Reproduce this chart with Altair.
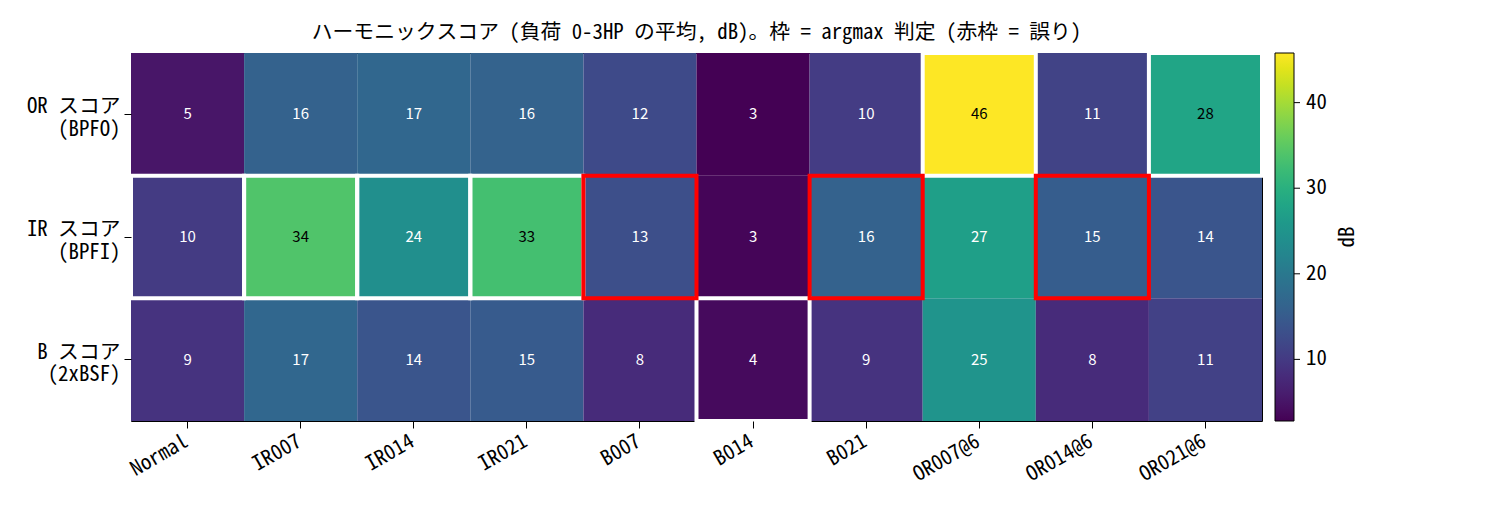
import altair as alt
import pandas as pd

faults = ["Normal", "IR007", "IR014", "IR021", "B007", "B014", "B021",
          "OR007@6", "OR014@6", "OR021@6"]
row_keys = ["OR", "IR", "B"]
row_line1 = ["OR スコア", "IR スコア", "B スコア"]
row_line2 = ["(BPFO)", "(BPFI)", "(2xBSF)"]

or_scores = [5.2, 16.1, 17.0, 16.2, 12.3, 2.8, 10.2, 45.8, 11.2, 28.0]
ir_scores = [10.1, 34.0, 24.0, 33.0, 13.0, 3.2, 16.0, 27.0, 15.2, 14.0]
b_scores = [9.0, 17.0, 14.0, 15.0, 8.0, 3.8, 9.0, 25.0, 8.0, 11.0]

frame_rows = ["IR", "IR", "IR", "IR", "IR", "B", "IR", "OR", "IR", "OR"]
frame_correct = [True, True, True, True, False, True, False, True, False, True]

cbar_ticks = [10, 20, 30, 40]
cmin, cmax = 2.8, 45.8

title_text = "ハーモニックスコア (負荷 0-3HP の平均, dB)。枠 = argmax 判定 (赤枠 = 誤り)"

records = []
for key, vals in zip(row_keys, [or_scores, ir_scores, b_scores]):
    for f, v in zip(faults, vals):
        records.append({"fault": f, "row": key, "v": v})
df = pd.DataFrame(records)
frames = pd.DataFrame({"fault": faults, "row": frame_rows, "ok": frame_correct})

font_ax = "Noto Sans Mono CJK JP, Noto Sans CJK JP, DejaVu Sans Mono"
font_num = "Noto Sans CJK JP"
FS = 20.8

label_expr = ""
for k, l1, l2 in zip(row_keys, row_line1, row_line2):
    label_expr += f"datum.value == '{k}' ? ['{l1}', '{l2}'] : "
label_expr += "datum.label"

W, H = 1131, 368

x_enc = alt.X("fault:N", sort=faults, scale=alt.Scale(domain=faults),
              axis=alt.Axis(title=None, labelAngle=-30, labelAlign="right",
                            labelBaseline="top", labelFontSize=FS, labelFont=font_ax,
                            tickSize=7, labelPadding=3, labelOffset=-6, domain=False,
                            tickColor="black", labelColor="black"))
y_enc = alt.Y("row:N", sort=row_keys, scale=alt.Scale(domain=row_keys),
              axis=alt.Axis(title=None, labelExpr=label_expr, labelAlign="right",
                            labelBaseline="middle", labelFontSize=FS, labelFont=font_ax,
                            labelLineHeight=22.5, labelOffset=-7, tickSize=7,
                            labelPadding=4, domain=False, tickColor="black",
                            labelColor="black"))

heat = alt.Chart(df).mark_rect().encode(
    x=x_enc, y=y_enc,
    color=alt.Color("v:Q", scale=alt.Scale(scheme="viridis", domain=[cmin, cmax]),
                    legend=alt.Legend(orient="none", legendX=W + 13, legendY=0,
                                      direction="vertical", title=None,
                                      gradientLength=H, gradientThickness=19,
                                      gradientStrokeColor="black", gradientStrokeWidth=1,
                                      values=cbar_ticks, labelFontSize=FS,
                                      labelFont=font_ax, labelColor="black",
                                      labelOffset=12, padding=0)),
)

text = alt.Chart(df).mark_text(font=font_num, fontSize=15).encode(
    x=x_enc, y=y_enc,
    text=alt.Text("v:Q", format=".0f"),
    color=alt.condition("datum.v > 27.5", alt.value("black"), alt.value("white")),
)

white_frames = alt.Chart(frames).transform_filter("datum.ok").mark_rect(
    fillOpacity=0, stroke="white", strokeWidth=4).encode(x=x_enc, y=y_enc)
red_frames = alt.Chart(frames).transform_filter("!datum.ok").mark_rect(
    fillOpacity=0, stroke="red", strokeWidth=4).encode(x=x_enc, y=y_enc)

ticks = alt.Chart(pd.DataFrame({"t": cbar_ticks})).mark_rule(
    color="black", strokeWidth=1).encode(
    y=alt.Y("t:Q", scale=alt.Scale(domain=[cmin, cmax], zero=False, nice=False), axis=None),
    x=alt.value(W + 13 + 19), x2=alt.value(W + 13 + 19 + 6))

db_label = alt.Chart(pd.DataFrame({"t": ["dB"]})).mark_text(
    angle=270, fontSize=FS, font=font_ax, color="black").encode(
    text="t:N", x=alt.value(W + 86), y=alt.value(H / 2))

main = alt.layer(heat, text, white_frames, red_frames)

chart = alt.layer(main, ticks, db_label).resolve_scale(
    y="independent"
).properties(
    width=W, height=H,
    title=alt.TitleParams(title_text, fontSize=20.8, font=font_ax, fontWeight="normal",
                          anchor="middle", offset=7, color="black"),
    autosize=alt.AutoSizeParams(type="none"),
    padding={"left": 123, "top": 45, "right": 200, "bottom": 80},
).configure_view(stroke="black", strokeWidth=1)

chart.save("out.html", embed_options={"renderer": "svg", "actions": False})
